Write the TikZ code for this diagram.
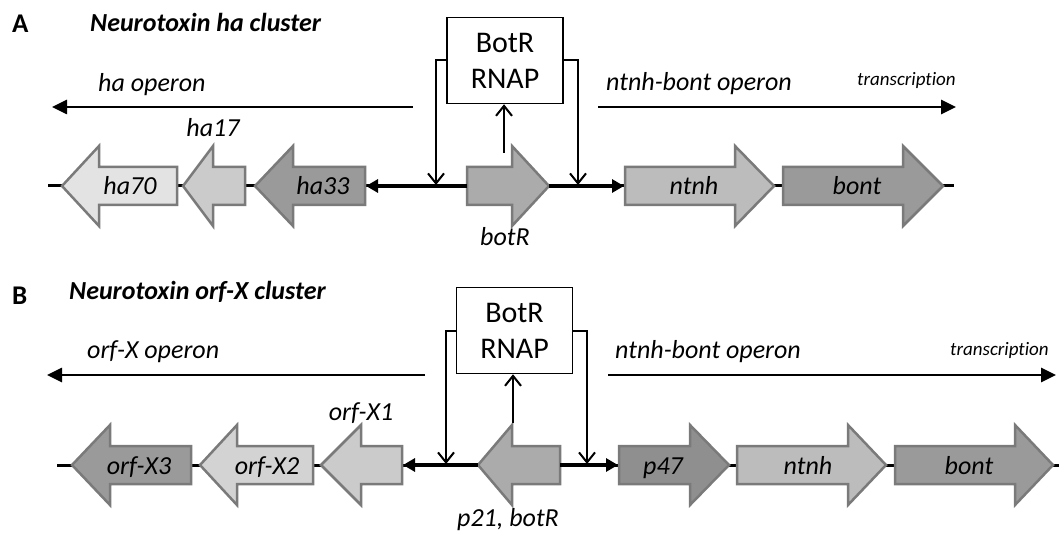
\documentclass[tikz,border=0pt]{standalone}
\usepackage{fontspec}
\setmainfont{Carlito}[Ligatures={NoCommon}]
\usetikzlibrary{arrows.meta}
\definecolor{genegray}{HTML}{7A7A7A}
\definecolor{gA}{HTML}{E3E3E3}
\definecolor{gB}{HTML}{CBCBCB}
\definecolor{gC}{HTML}{9A9A9A}
\definecolor{gD}{HTML}{ABABAB}
\definecolor{gE}{HTML}{BCBCBC}
\definecolor{gF}{HTML}{D3D3D3}
\definecolor{gG}{HTML}{8F8F8F}
\newcommand{\genearrow}[5]{%
  \filldraw[gene, fill=#5] (#1,#4-19) -- (#2,#4-19) -- (#2,#4-40) -- (#3,#4)
    -- (#2,#4+40) -- (#2,#4+19) -- (#1,#4+19) -- cycle;}
\begin{document}
\begin{tikzpicture}[x=1pt,y=-1pt,
  gene/.style={draw=genegray, line width=2.5pt, line join=miter},
  lbl/.style={font=\fontsize{26}{30}\selectfont\itshape, inner sep=0pt, anchor=base},
  smalllbl/.style={font=\fontsize{19}{22}\selectfont\itshape, inner sep=0pt, anchor=base west},
  titlelbl/.style={font=\fontsize{26}{30}\selectfont\bfseries\itshape, inner sep=0pt, anchor=base west},
  panellbl/.style={font=\fontsize{27}{30}\selectfont\bfseries, inner sep=0pt, anchor=base west},
  rnap/.style={draw, line width=1.5pt, minimum width=116pt, minimum height=86pt,
    align=center, inner sep=0pt, font=\fontsize{30}{36}\selectfont},
  operon/.style={line width=2.6pt, -{Triangle[length=15pt,width=14pt]}},
  backbone/.style={line width=3pt},
  thickarr/.style={line width=4pt, -{Triangle[length=12pt,width=13pt]}},
  conn/.style={line width=2pt, -{Straight Barb[length=10pt,width=16pt,line width=2pt]}}
]
\useasboundingbox (0,0) rectangle (1059,534);
% ---------------- Panel A ----------------
\node[panellbl] (labA) at (12,33) {A};
\node[titlelbl] (titA) at (90,32) {Neurotoxin ha cluster};
\node[rnap] (boxA) at (505,60.5) {BotR\\RNAP};
\coordinate (opAL0) at (413,107); \coordinate (opAL1) at (52,107);
\coordinate (opAR0) at (598,107); \coordinate (opAR1) at (956,107);
\draw[operon] (opAL0) -- (opAL1);
\draw[operon] (opAR0) -- (opAR1);
\node[lbl, anchor=base west] (tHaOp) at (98,92) {ha operon};
\node[lbl, anchor=base west] (tNBA) at (606,91) {ntnh-bont operon};
\node[smalllbl] (trA) at (857,86) {transcription};
\coordinate (bbA0) at (48,186); \coordinate (bbA1) at (954,186);
\draw[backbone] (bbA0) -- (bbA1);
\genearrow{177}{99}{62}{186}{gA}
\genearrow{245}{213}{183}{186}{gB}
\genearrow{365}{293}{255}{186}{gC}
\genearrow{467}{512}{549}{186}{gD}
\genearrow{625}{735}{774}{186}{gE}
\genearrow{783}{903}{943}{186}{gC}
\coordinate (ha33A) at (366,186); \coordinate (botRAL) at (467,186);
\coordinate (botRAR) at (549,186); \coordinate (ntnhA) at (624,186);
\draw[thickarr] (botRAL) -- (ha33A);
\draw[thickarr] (botRAR) -- (ntnhA);
\coordinate (cAL) at (436,185); \coordinate (cAR) at (578,185);
\draw[conn] (boxA.west) -| (cAL);
\draw[conn] (boxA.east) -| (cAR);
\coordinate (uA) at (504,153);
\draw[conn] (uA) -- (uA |- boxA.south);
\node[lbl] (nha70) at (130,195) {ha70};
\node[lbl] (nha17) at (213,137) {ha17};
\node[lbl] (nha33) at (323,195) {ha33};
\node[lbl] (nbotR) at (505,246) {botR};
\node[lbl] (nntnhA) at (694,195) {ntnh};
\node[lbl] (nbontA) at (857,195) {bont};
% ---------------- Panel B ----------------
\node[panellbl] (labB) at (12,305) {B};
\node[titlelbl] (titB) at (69,300) {Neurotoxin orf-X cluster};
\node[rnap] (boxB) at (514.5,330.5) {BotR\\RNAP};
\coordinate (opBL0) at (425,375); \coordinate (opBL1) at (47,375);
\coordinate (opBR0) at (608,375); \coordinate (opBR1) at (1056,375);
\draw[operon] (opBL0) -- (opBL1);
\draw[operon] (opBR0) -- (opBR1);
\node[lbl, anchor=base west] (tOrfOp) at (87,358) {orf-X operon};
\node[lbl, anchor=base west] (tNBB) at (615,358) {ntnh-bont operon};
\node[smalllbl] (trB) at (950,355) {transcription};
\coordinate (bbB0) at (57,465); \coordinate (bbB1) at (1059,465);
\draw[backbone] (bbB0) -- (bbB1);
\genearrow{191}{110}{72}{465}{gC}
\genearrow{313}{237}{200}{465}{gF}
\genearrow{402}{361}{321}{465}{gB}
\genearrow{560}{512}{478}{465}{gD}
\genearrow{619}{690}{729}{465}{gG}
\genearrow{737}{848}{886}{465}{gE}
\genearrow{895}{1015}{1053}{465}{gC}
\coordinate (orfX1B) at (403,465); \coordinate (p21L) at (478,465);
\coordinate (p21R) at (560,465); \coordinate (p47B) at (618,465);
\draw[thickarr] (p21L) -- (orfX1B);
\draw[thickarr] (p21R) -- (p47B);
\coordinate (cBL) at (446,464); \coordinate (cBR) at (587,464);
\draw[conn] (boxB.west) -| (cBL);
\draw[conn] (boxB.east) -| (cBR);
\coordinate (uB) at (513,423);
\draw[conn] (uB) -- (uB |- boxB.south);
\node[lbl] (norfX3) at (139,474) {orf-X3};
\node[lbl] (norfX2) at (267,474) {orf-X2};
\node[lbl] (norfX1) at (361,420) {orf-X1};
\node[lbl] (np21) at (508,526) {p21, botR};
\node[lbl] (np47) at (663,474) {p47};
\node[lbl] (nntnhB) at (808,474) {ntnh};
\node[lbl] (nbontB) at (969,474) {bont};
\end{tikzpicture}
\end{document}
